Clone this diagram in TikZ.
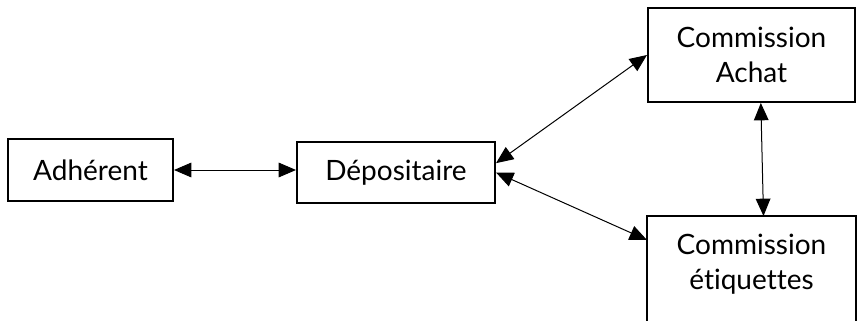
\documentclass[tikz,border=0pt]{standalone}
\usepackage{fontspec}
\setmainfont{Lato}[Ligatures=NoCommon]
\usetikzlibrary{arrows.meta}
\newcommand{\px}{0.75pt}

\begin{document}
\begin{tikzpicture}[x=\px, y=-\px,
    box/.style={draw, rectangle, line width=1.5pt, inner sep=0pt, align=center, font=\fontsize{21}{26}\selectfont},
    link/.style={{Triangle[length=13pt,width=11pt]}-{Triangle[length=13pt,width=11pt]}, line width=0.75pt}]
    \useasboundingbox (0,0) rectangle (857,321);

    % Left row
    \node[box, minimum width=165*\px, minimum height=62*\px] (adh) at (90.5,170) {Adhérent};
    \node[box, minimum width=198*\px, minimum height=61*\px] (dep) at (396,172.5) {Dépositaire};

    % Commissions
    \node[box, minimum width=207*\px, minimum height=94*\px] (achat) at (751.5,55) {Commission\\Achat};
    \node[box, draw=none, minimum width=207*\px, minimum height=94*\px] (etiq) at (751.5,264) {Commission\\étiquettes};
    \draw[line width=1.5pt] (etiq.north west) rectangle ([yshift=-25pt]etiq.south east);

    % Links
    \draw[link] (adh.east) -- (adh.east -| dep.west);
    \draw[link] ([yshift=7pt]dep.east) -- (achat.west);
    \draw[link] (dep.east) -- ([yshift=-18pt]etiq.north west);
    \draw[link] ([xshift=7pt]achat.south) -- ([xshift=9pt]etiq.north);

\end{tikzpicture}
\end{document}
